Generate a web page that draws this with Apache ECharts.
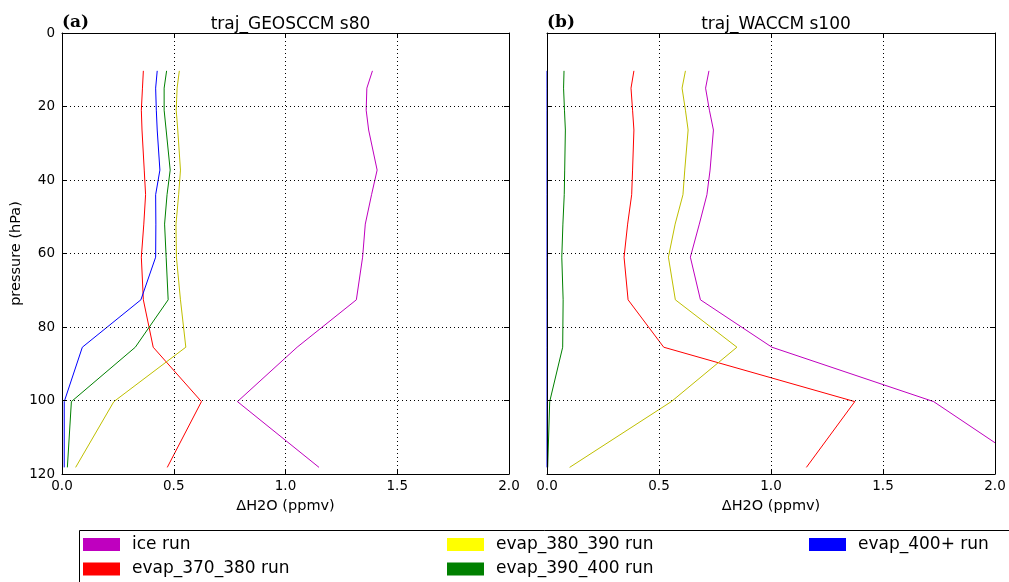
<!DOCTYPE html>
<html>
<head>
<meta charset="utf-8">
<script src="https://cdn.jsdelivr.net/npm/echarts@6/dist/echarts.min.js"></script>
<style>
  html, body { margin: 0; padding: 0; background: #fff; }
  #chart { width: 1009px; height: 582px; }
</style>
</head>
<body>
<div id="chart"></div>
<script>
// Pressure levels (hPa) shared by every profile
const PRESSURE = [10.3, 15, 21, 26.4, 37.3, 44, 52, 61, 72.6, 85.5, 100.3, 118.2];

// Panel (a): traj_GEOSCCM s80, water vapour change (ppmv)
const geosIce     = [1.389, 1.364, 1.361, 1.372, 1.410, 1.385, 1.357, 1.345, 1.317, 1.052, 0.785, 1.150];
const geosEvap370 = [0.364, 0.360, 0.355, 0.358, 0.368, 0.374, 0.366, 0.355, 0.364, 0.408, 0.624, 0.471];
const geosEvap380 = [0.525, 0.515, 0.511, 0.518, 0.530, 0.522, 0.510, 0.512, 0.530, 0.554, 0.232, 0.061];
const geosEvap390 = [0.468, 0.457, 0.457, 0.466, 0.484, 0.470, 0.459, 0.466, 0.475, 0.328, 0.042, 0.024];
const geosEvap400 = [0.426, 0.419, 0.422, 0.426, 0.438, 0.419, 0.420, 0.419, 0.353, 0.091, 0.010, 0.010];

// Panel (b): traj_WACCM s100, water vapour change (ppmv)
const waccmIce     = [0.723, 0.708, 0.725, 0.743, 0.728, 0.714, 0.680, 0.640, 0.685, 1.004, 1.726, 2.164];
const waccmEvap370 = [0.388, 0.375, 0.382, 0.388, 0.382, 0.378, 0.360, 0.344, 0.362, 0.521, 1.374, 1.158];
const waccmEvap380 = [0.618, 0.603, 0.618, 0.630, 0.615, 0.607, 0.572, 0.542, 0.573, 0.848, 0.555, 0.101];
const waccmEvap390 = [0.076, 0.074, 0.078, 0.082, 0.079, 0.077, 0.071, 0.066, 0.072, 0.070, 0.012, 0.003];
const waccmEvap400 = [0, 0, 0, 0, 0, 0, 0, 0, 0, 0, 0, 0];

// Axis ticks
const X_TICKS = [0, 0.5, 1.0, 1.5, 2.0];
const Y_TICKS = [0, 20, 40, 60, 80, 100, 120];

const PANEL_TITLES = ['traj_GEOSCCM s80', 'traj_WACCM s100'];
const PANEL_TAGS = ['(a)', '(b)'];
const RUN_NAMES = ['ice run', 'evap_370_380 run', 'evap_380_390 run', 'evap_390_400 run', 'evap_400+ run'];
const LINE_COLORS = ['#bf00bf', '#ff0000', '#bfbf00', '#008000', '#0000ff'];
const SWATCH_COLORS = ['#bf00bf', '#ff0000', '#ffff00', '#008000', '#0000ff'];

const PANELS = [
  [geosIce, geosEvap370, geosEvap380, geosEvap390, geosEvap400],
  [waccmIce, waccmEvap370, waccmEvap380, waccmEvap390, waccmEvap400]
];

const FONT = 'DejaVu Sans';
const GRIDS = [
  { left: 62, top: 33, width: 447, height: 441 },
  { left: 547, top: 33, width: 448, height: 441 }
];

const tickStyle = { show: true, inside: true, length: 5, lineStyle: { color: '#000', width: 1 } };
const dotted = { show: true, lineStyle: { color: '#000', width: 1, type: [1, 3] } };

const xAxes = [], yAxes = [], series = [], titles = [];

GRIDS.forEach((g, gi) => {
  // bottom x axis with labels and grid lines
  xAxes.push({
    gridIndex: gi, type: 'value', position: 'bottom',
    min: X_TICKS[0], max: X_TICKS[X_TICKS.length - 1], interval: X_TICKS[1] - X_TICKS[0],
    name: '\u0394H2O (ppmv)', nameLocation: 'middle', nameGap: 25,
    nameTextStyle: { fontFamily: FONT, fontSize: 14.5, color: '#000' },
    axisLine: { show: true, onZero: false, lineStyle: { color: '#000', width: 1 } },
    axisTick: tickStyle,
    axisLabel: { show: true, margin: 5, fontFamily: FONT, fontSize: 13.5, color: '#000',
      showMinLabel: true, showMaxLabel: true, formatter: v => v.toFixed(1) },
    splitLine: dotted, z: 3
  });
  // top x axis: ticks only
  xAxes.push({
    gridIndex: gi, type: 'value', position: 'top',
    min: X_TICKS[0], max: X_TICKS[X_TICKS.length - 1], interval: X_TICKS[1] - X_TICKS[0],
    axisLine: { show: true, onZero: false, lineStyle: { color: '#000', width: 1 } },
    axisTick: tickStyle, axisLabel: { show: false }, splitLine: { show: false }, z: 3
  });
  // left y axis (pressure, increasing downward)
  yAxes.push({
    gridIndex: gi, type: 'value', position: 'left', inverse: true,
    min: Y_TICKS[0], max: Y_TICKS[Y_TICKS.length - 1], interval: Y_TICKS[1] - Y_TICKS[0],
    name: gi === 0 ? 'pressure (hPa)' : '', nameLocation: 'middle', nameGap: 38, nameRotate: 90,
    nameTextStyle: { fontFamily: FONT, fontSize: 14.5, color: '#000' },
    axisLine: { show: true, onZero: false, lineStyle: { color: '#000', width: 1 } },
    axisTick: tickStyle,
    axisLabel: { show: gi === 0, margin: 7, fontFamily: FONT, fontSize: 13.5, color: '#000',
      showMinLabel: true, showMaxLabel: true },
    splitLine: dotted, z: 3
  });
  // right y axis: ticks only
  yAxes.push({
    gridIndex: gi, type: 'value', position: 'right', inverse: true,
    min: Y_TICKS[0], max: Y_TICKS[Y_TICKS.length - 1], interval: Y_TICKS[1] - Y_TICKS[0],
    axisLine: { show: true, onZero: false, lineStyle: { color: '#000', width: 1 } },
    axisTick: tickStyle, axisLabel: { show: false }, splitLine: { show: false }, z: 3
  });

  PANELS[gi].forEach((vals, si) => {
    series.push({
      type: 'line', name: RUN_NAMES[si],
      xAxisIndex: gi * 2, yAxisIndex: gi * 2,
      data: vals.map((v, k) => [v, PRESSURE[k]]),
      showSymbol: false, symbol: 'none', clip: true,
      lineStyle: { color: LINE_COLORS[si], width: 1 },
      itemStyle: { color: LINE_COLORS[si] },
      z: 2
    });
  });

  titles.push({
    text: PANEL_TITLES[gi], left: g.left + g.width / 2, top: 11, textAlign: 'center',
    textStyle: { fontFamily: FONT, fontSize: 17, fontWeight: 'normal', color: '#000' }
  });
  titles.push({
    text: PANEL_TAGS[gi], left: g.left - 5, top: 9,
    textStyle: { fontFamily: 'DejaVu Serif', fontSize: 17, fontWeight: 'bold', color: '#000' }
  });
});

// Legend laid out in three columns, filled column by column
const legendCols = [
  { left: 83, items: [0, 1] },
  { left: 447, items: [2, 3] },
  { left: 809, items: [4] }
];
const legends = legendCols.map(col => ({
  orient: 'vertical', left: col.left, top: 536, padding: 0,
  itemWidth: 37, itemHeight: 13, itemGap: 7.5, icon: 'rect',
  selectedMode: false,
  textStyle: { fontFamily: FONT, fontSize: 17, color: '#000', padding: [0, 0, 0, 7] },
  data: col.items.map(i => ({ name: RUN_NAMES[i], icon: 'rect', itemStyle: { color: SWATCH_COLORS[i] } }))
}));

const chart = echarts.init(document.getElementById('chart'), null, { renderer: 'canvas' });
chart.setOption({
  animation: false,
  backgroundColor: '#fff',
  title: titles,
  grid: GRIDS,
  xAxis: xAxes,
  yAxis: yAxes,
  legend: legends,
  series: series,
  graphic: [{
    type: 'rect', left: 77, top: 528, z: 0,
    shape: { width: 940, height: 60 },
    style: { fill: 'none', stroke: '#000', lineWidth: 1 }
  }]
});
</script>
</body>
</html>
